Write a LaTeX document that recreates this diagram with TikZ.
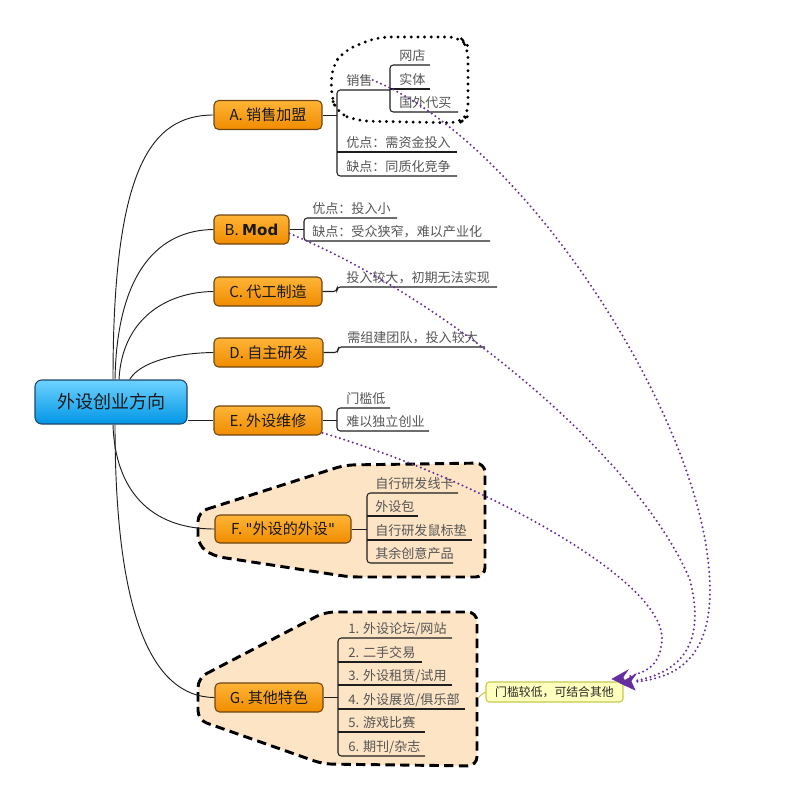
\documentclass[tikz,border=0pt]{standalone}
\usepackage{fontspec}
\setmainfont{Noto Sans CJK SC}
\newfontfamily\latf{DejaVu Sans}
\usetikzlibrary{arrows.meta}
\definecolor{subtext}{RGB}{85,85,85}
\definecolor{orangetop}{RGB}{255,180,55}
\definecolor{orangebot}{RGB}{240,140,0}
\definecolor{orangeedge}{RGB}{110,70,20}
\definecolor{bluetop}{RGB}{110,210,255}
\definecolor{bluebot}{RGB}{0,150,230}
\definecolor{blueedge}{RGB}{30,70,110}
\definecolor{peach}{RGB}{253,228,196}
\definecolor{relpurple}{RGB}{100,45,160}
\definecolor{calloutfill}{RGB}{255,255,190}
\definecolor{calloutedge}{RGB}{200,200,80}
\definecolor{linecol}{RGB}{30,30,30}
\tikzset{
 topicbox/.style={draw=orangeedge, line width=0.8pt, rounded corners=3.5pt, top color=orangetop, bottom color=orangebot, text=black!90, font=\fontsize{11.3}{13}\selectfont, inner sep=0pt, minimum height=21.75pt},
 centralbox/.style={draw=blueedge, line width=0.8pt, rounded corners=5pt, top color=bluetop, bottom color=bluebot, text=black!90, font=\fontsize{13.5}{15}\selectfont, inner sep=0pt, minimum width=114pt, minimum height=33pt},
 leaf/.style={anchor=base west, inner sep=0pt, text=subtext, font=\fontsize{9.8}{11}\selectfont},
 uline/.style={draw=linecol, line width=0.8pt},
 conn/.style={draw=linecol, line width=0.7pt},
 brk/.style={draw=linecol, line width=0.8pt, rounded corners=2.5pt},
 dashbound/.style={draw=black, line width=2.2pt, dash pattern=on 7pt off 4pt, fill=peach, rounded corners=7pt},
 dotbound/.style={draw=black, line width=2.4pt, dash pattern=on 0pt off 5pt, line cap=round, rounded corners=9pt},
 relline/.style={draw=relpurple, line width=1.7pt, dash pattern=on 0pt off 3.4pt, line cap=round},
 relhead/.style={fill=relpurple, draw=relpurple, line width=0.4pt, line join=miter},
 calloutbox/.style={draw=calloutedge, line width=0.8pt, fill=calloutfill, rounded corners=2.5pt, font=\fontsize{8.9}{10}\selectfont, text=black!85, inner sep=0pt, minimum width=102.75pt, minimum height=15pt},
}
\begin{document}
\begin{tikzpicture}[x=0.75pt,y=-0.75pt]
\useasboundingbox (0,0) rectangle (806,803);
% background boundaries
\draw[dashbound] (198,512) -- (345,465) -- (485,463) -- (485,577) -- (350,577) -- (213,556) -- (198,545) -- cycle;
\draw[dashbound] (198,678) -- (325,612) -- (477,612) -- (477,766) -- (323,764) -- (198,720) -- cycle;
\draw[dotbound] (337,113) -- (331,95) -- (332,66) -- (345,50) -- (378,37) -- (460,37) -- (468,46) -- (468,116) -- (460,123) -- (358,121) -- cycle;

% nodes
\node[centralbox] (root) at (111,402) {外设创业方向};
\node[topicbox, minimum width=81pt] (A) at (268,115) {A. 销售加盟};
\node[topicbox, minimum width=56.25pt] (B) at (251.5,229.5) {B. {\latf\bfseries Mod}};
\node[topicbox, minimum width=81pt] (C) at (268,291.5) {C. 代工制造};
\node[topicbox, minimum width=81.75pt] (D) at (268.5,352.5) {D. 自主研发};
\node[topicbox, minimum width=81pt] (E) at (268,420.5) {E. 外设维修};
\node[topicbox, minimum width=102pt, minimum height=21pt] (F) at (283,529) {F. {\latf\char"22}外设的外设{\latf\char"22}};
\node[topicbox, minimum width=81pt] (G) at (269,697.5) {G. 其他特色};

% root connectors
\draw[conn] ([xshift=1.5pt]root.north) .. controls (113,170) and (150,115) .. (A.west);
\draw[conn] ([xshift=3pt]root.north) .. controls (117,270) and (160,230) .. (B.west);
\draw[conn] ([xshift=6pt]root.north) .. controls (122,320) and (165,292) .. (C.west);
\draw[conn] ([xshift=14pt]root.north) .. controls (140,362) and (175,353) .. (D.west);
\draw[conn] (root.east |- E.west) -- (E.west);
\draw[conn] ([xshift=1.5pt]root.south) .. controls (115,490) and (150,529) .. (F.west);
\draw[conn] ([xshift=3pt]root.south) .. controls (115,610) and (150,697) .. (G.west);

% A leaves
\node[leaf] (a0) at (346,85) {销售};
\node[leaf] (a01) at (399,60) {网店};
\node[leaf] (a02) at (399,84) {实体};
\node[leaf] (a03) at (399,107) {国外代买};
\node[leaf] (a1) at (346,147) {优点：需资金投入};
\node[leaf] (a2) at (346,171) {缺点：同质化竞争};
\draw[conn] (A.east) -- (337,115);
\draw[brk] (390,90) -| (337,176) -- (457,176);
\draw[uline] (337,152) -- (457,152);
\draw[brk] (430,65) -| (390,112) -- (458,112);
\draw[uline] (390,89) -- (430,89);

% B leaves
\node[leaf] (b1) at (312,213) {优点：投入小};
\node[leaf] (b2) at (312,236) {缺点：受众狭窄，难以产业化};
\draw[conn] (B.east) -- (304,229.5);
\draw[brk] (397,218) -| (304,241) -- (490,241);

% C leaf
\node[leaf] (c1) at (346,282) {投入较大，初期无法实现};
\draw[brk] (C.east) -- (337,291.5) |- (497,287);

% D leaf
\node[leaf] (d1) at (347,342) {需组建团队，投入较大};
\draw[brk] (D.east) -- (338,352.5) |- (485,347);

% E leaves
\node[leaf] (e1) at (346,403) {门槛低};
\node[leaf] (e2) at (346,426) {难以独立创业};
\draw[conn] (E.east) -- (337,420.5);
\draw[brk] (390,408) -| (337,431) -- (429,431);

% F leaves
\node[leaf] (f1) at (375,488) {自行研发线卡};
\node[leaf] (f2) at (375,511) {外设包};
\node[leaf] (f3) at (375,535) {自行研发鼠标垫};
\node[leaf] (f4) at (375,558) {其余创意产品};
\draw[conn] (F.east) -- (367,529);
\draw[brk] (458,493) -| (367,563) -- (453,563);
\draw[uline] (367,516) -- (418,516);
\draw[uline] (367,540) -- (472,540);

% G leaves
\node[leaf] (g1) at (348,633) {1. 外设论坛/网站};
\node[leaf] (g2) at (348,657) {2. 二手交易};
\node[leaf] (g3) at (348,680) {3. 外设租赁/试用};
\node[leaf] (g4) at (348,704) {4. 外设展览/俱乐部};
\node[leaf] (g5) at (348,727) {5. 游戏比赛};
\node[leaf] (g6) at (348,751) {6. 期刊/杂志};
\draw[conn] (G.east) -- (338,697.5);
\draw[brk] (452,638) -| (338,756) -- (425,756);
\draw[uline] (338,662) -- (422,662);
\draw[uline] (338,685) -- (452,685);
\draw[uline] (338,709) -- (465,709);
\draw[uline] (338,732) -- (425,732);

% callout
\node[calloutbox] (note) at (554.5,692) {门槛较低，可结合其他};
\draw[draw=calloutedge, line width=0.8pt] (note.west) .. controls (482,694) .. (478,698);
\coordinate (tipA) at (620,683);
\coordinate (tipE) at (612,679);

% relationship lines
\draw[relline] (a0.east) .. controls (520,140) and (690,400) .. (708,560) .. controls (720,660) and (675,678) .. (634,682);
\draw[relline] ([yshift=-3pt]B.east) .. controls (450,300) and (640,460) .. (690,580) .. controls (705,640) and (685,672) .. (634,681);
\draw[relline] ([yshift=2pt]E.south east) .. controls (480,480) and (665,580) .. (662,640) .. controls (660,665) and (648,672) .. (626,677);
\filldraw[relhead] (tipA) -- (636,674) -- (631,681) -- (635,690) -- cycle;
\filldraw[relhead] (tipE) -- (628,670) -- (623,677) -- (627,686) -- cycle;
\end{tikzpicture}
\end{document}
